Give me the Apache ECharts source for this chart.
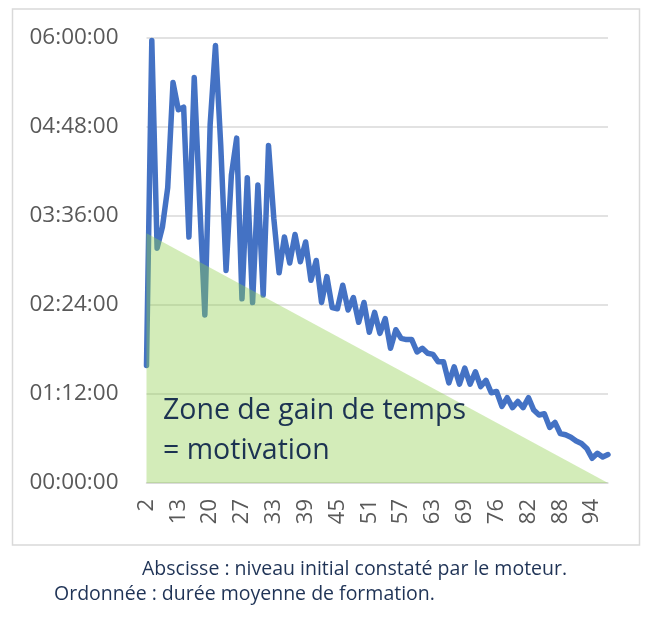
<!DOCTYPE html>
<html>
<head>
<meta charset="utf-8">
<script src="https://cdn.jsdelivr.net/npm/echarts@6/dist/echarts.min.js"></script>
<style>
html,body{margin:0;padding:0;background:#fff;}
#chart{width:656px;height:618px;}
</style>
</head>
<body>
<div id="chart"></div>
<script>
// Niveau initial (abscisse)
const categories = [2,4,6,8,10,12,13,14,15,16,17,18,20,21,22,23,24,25,27,28,29,30,31,32,
  33,34,35,36,37,38,39,40,41,42,43,44,45,46,47,48,49,50,51,52,53,54,55,56,57,58,59,60,61,62,
  63,64,65,66,67,68,69,70,71,72,73,74,76,77,78,79,80,81,82,83,84,85,86,87,88,89,90,91,92,93,94,95,96,97].map(String);

// Durée moyenne de formation, en minutes
const durationMinutes = [95,358,190,207,239,324,302,304,199,328,
  229,136,290,354,273,172,249,279,149,247,
  146,241,152,273,214,170,199,178,201,179,
  195,164,180,146,167,142,141,160,140,150,
  130,146,122,138,121,133,109,124,117,116,
  116,106,109,105,104,98,98,81,94,80,
  93,80,90,78,83,73,74,62,69,61,
  66,61,69,59,55,56,45,49,40,39,
  37,34,32,28,20,24,21,23];

// Zone de gain de temps (triangle) : sommets en minutes
const zoneStart = ['2', 202];
const zoneEnd = ['97', 0];

// Axe des ordonnées (minutes)
const yMin = 0, yMax = 360, yStep = 72;

function fmt(m){
  const h = Math.floor(m/60), mm = Math.round(m%60);
  return String(h).padStart(2,'0') + ':' + String(mm).padStart(2,'0') + ':00';
}

const FONT = "'Open Sans', 'Noto Sans', sans-serif";
const chart = echarts.init(document.getElementById('chart'), null, {renderer:'canvas'});
chart.setOption({
  animation:false,
  backgroundColor:'#ffffff',
  grid:{left:146.5, right:48, top:38, bottom:135, containLabel:false},
  xAxis:{
    type:'category', data:categories, boundaryGap:false,
    axisLine:{show:true, lineStyle:{color:'#d9d9d9', width:1.5}},
    axisTick:{show:false},
    axisLabel:{interval:5, rotate:90, margin:16, fontSize:22, color:'#595959', fontFamily:FONT},
    splitLine:{show:false}
  },
  yAxis:{
    type:'value', min:yMin, max:yMax, interval:yStep,
    axisLine:{show:false}, axisTick:{show:false},
    axisLabel:{formatter:fmt, margin:28, fontSize:22.5, color:'#595959', fontFamily:FONT},
    splitLine:{lineStyle:{color:'#d9d9d9', width:1.5}}
  },
  series:[
    {
      type:'line', data:durationMinutes, showSymbol:false, symbol:'none',
      lineStyle:{color:'#4472C4', width:5.5, join:'round', cap:'round'},
      z:2
    },
    {
      type:'line', data:[zoneStart, zoneEnd], showSymbol:false, symbol:'none',
      lineStyle:{width:0, opacity:0},
      areaStyle:{color:'rgba(146,208,80,0.4)', opacity:1},
      z:3
    }
  ],
  graphic:[
    {type:'rect', shape:{x:12.5, y:9, width:627, height:536}, style:{fill:'none', stroke:'#d9d9d9', lineWidth:1.5}, z:0},
    {type:'text', x:163, y:391, z:10, style:{text:'Zone de gain de temps\n= motivation', font:'28.5px ' + FONT, fill:'#1c3352', lineHeight:40}},
    {type:'text', x:142, y:569, z:10, style:{text:'Abscisse : niveau initial constaté par le moteur.', font:'19.5px ' + FONT, fill:'#1f3356', verticalAlign:'middle'}},
    {type:'text', x:54, y:594, z:10, style:{text:'Ordonnée : durée moyenne de formation.', font:'19.5px ' + FONT, fill:'#1f3356', verticalAlign:'middle'}}
  ]
});
</script>
</body>
</html>
